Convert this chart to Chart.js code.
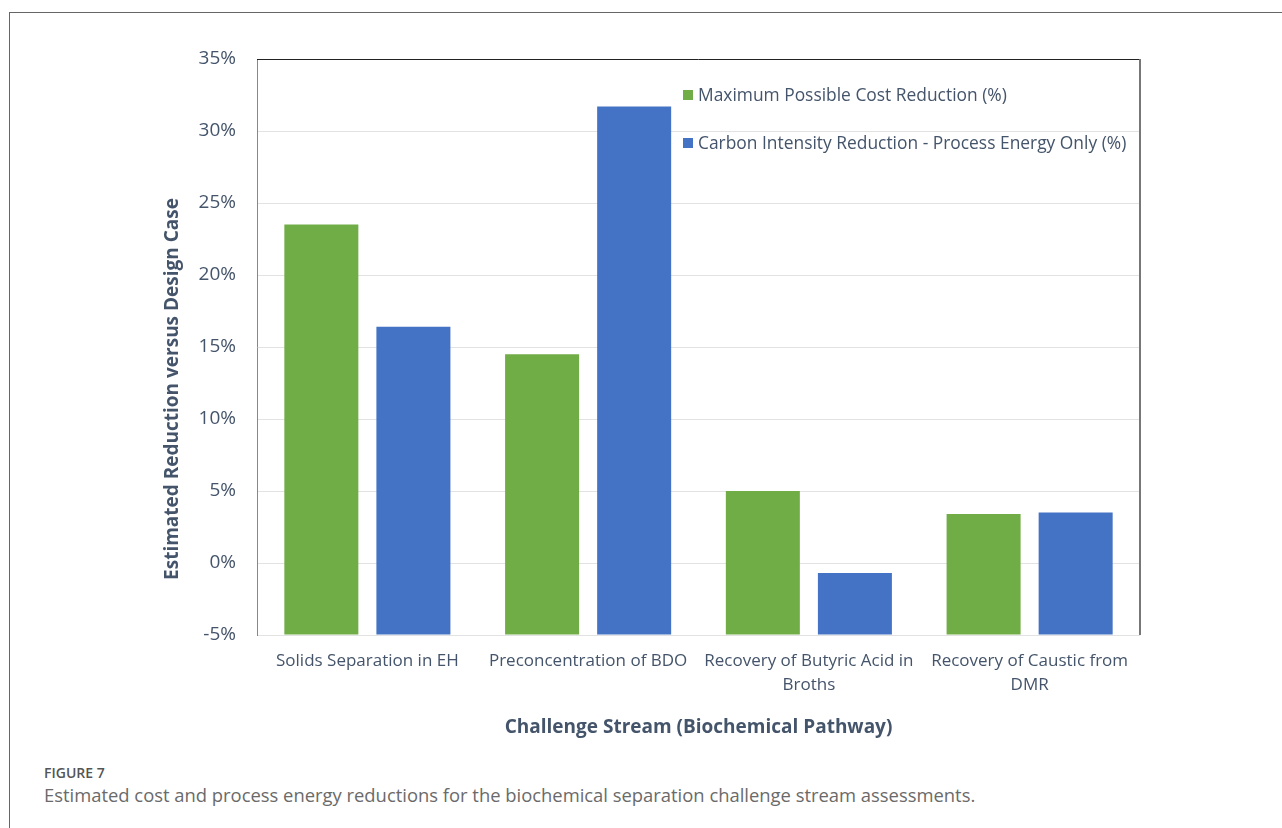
<!DOCTYPE html>
<html>
<head>
<meta charset="utf-8">
<script src="https://cdn.jsdelivr.net/npm/chart.js@4"></script>
<style>
    html, body { margin: 0; padding: 0; background: #fff; }
    body { width: 1282px; height: 828px; position: relative; overflow: hidden; font-family: 'Open Sans', sans-serif; }
    #frame { position: absolute; left: 9px; top: 12px; width: 1400px; height: 900px; border-left: 1.5px solid #666; border-top: 1.5px solid #666; box-sizing: border-box; }
    #wrap { position: absolute; left: 0; top: 0; width: 1282px; height: 760px; }
    #figLabel { position: absolute; left: 44px; top: 763px; font-size: 14px; font-weight: 600; color: #555; }
    #caption { position: absolute; left: 44px; top: 782px; font-size: 18.4px; color: #6a6a6a; white-space: nowrap; }
</style>
</head>
<body>
<div id="frame"></div>
<div id="wrap"><canvas id="chart" width="1282" height="760"></canvas></div>
<div id="figLabel">FIGURE 7</div>
<div id="caption">Estimated cost and process energy reductions for the biochemical separation challenge stream assessments.</div>
<script>
// Data (percent)
const categories = [
    'Solids Separation in EH',
    'Preconcentration of BDO',
    ['Recovery of Butyric Acid in', 'Broths'],
    ['Recovery of Caustic from', 'DMR']
];
const costReduction = [23.5, 14.5, 5.0, 3.4];
const carbonReduction = [16.4, 31.7, -0.7, 3.5];
const seriesNames = ['Maximum Possible Cost Reduction (%)', 'Carbon Intensity Reduction - Process Energy Only (%)'];
const yTitle = 'Estimated Reduction versus Design Case';
const xTitle = 'Challenge Stream (Biochemical Pathway)';
const yMin = -5, yMax = 35, yStep = 5;

const textColor = '#44546A';

// legend drawn inside plot area, top right
const innerLegend = {
    id: 'innerLegend',
    afterDatasetsDraw(chart) {
        const ctx = chart.ctx;
        ctx.save();
        ctx.font = '17.4px "Open Sans"';
        ctx.textBaseline = 'middle';
        chart.data.datasets.forEach((ds, i) => {
            const y = 95 + i * 48;
            ctx.fillStyle = ds.backgroundColor;
            ctx.fillRect(683, y - 5, 10, 10);
            ctx.fillStyle = textColor;
            ctx.fillText(ds.label, 698, y + 1);
        });
        ctx.restore();
    }
};

// top and right border of the plot area, plus the rotated y title
const plotBorder = {
    id: 'plotBorder',
    afterDraw(chart) {
        const { left, right, top, bottom } = chart.chartArea;
        const ctx = chart.ctx;
        ctx.save();
        ctx.strokeStyle = '#222';
        ctx.lineWidth = 1;
        ctx.beginPath();
        ctx.moveTo(left, top + 0.5);
        ctx.lineTo(right, top + 0.5);
        ctx.stroke();
        ctx.strokeStyle = '#777';
        ctx.lineWidth = 2;
        ctx.beginPath();
        ctx.moveTo(right, top);
        ctx.lineTo(right, bottom);
        ctx.stroke();

        ctx.translate(173, 389);
        ctx.rotate(-Math.PI / 2);
        ctx.font = 'bold 19px "Open Sans"';
        ctx.fillStyle = textColor;
        ctx.textAlign = 'center';
        ctx.textBaseline = 'middle';
        ctx.fillText(yTitle, 0, 0);
        ctx.restore();
    }
};

new Chart(document.getElementById('chart'), {
    type: 'bar',
    data: {
        labels: categories,
        datasets: [{
            label: seriesNames[0],
            data: costReduction,
            backgroundColor: '#70AD47',
            base: yMin,
            barPercentage: 0.804,
            categoryPercentage: 0.834
        }, {
            label: seriesNames[1],
            data: carbonReduction,
            backgroundColor: '#4472C4',
            base: yMin,
            barPercentage: 0.804,
            categoryPercentage: 0.834
        }]
    },
    options: {
        responsive: false,
        animation: false,
        layout: { padding: { left: 157, right: 142, top: 59, bottom: 0 } },
        plugins: {
            legend: { display: false },
            tooltip: { enabled: false }
        },
        scales: {
            x: {
                grid: { display: false, drawTicks: false },
                border: { display: false },
                ticks: {
                    color: textColor,
                    font: { family: 'Open Sans', size: 17, lineHeight: '24px' },
                    padding: 14,
                    maxRotation: 0,
                    autoSkip: false
                },
                title: {
                    display: true,
                    text: xTitle,
                    color: textColor,
                    font: { family: 'Open Sans', size: 19, weight: 'bold' },
                    padding: { top: 4, bottom: 21 }
                },
                afterFit(scale) { scale.height = 125; }
            },
            y: {
                min: yMin,
                max: yMax,
                grid: { color: '#e2e2e2', drawTicks: false },
                border: { display: true, color: '#888', width: 1 },
                ticks: {
                    stepSize: yStep,
                    color: textColor,
                    font: { family: 'Open Sans', size: 19 },
                    padding: 21,
                    callback: v => v + '%'
                },
                afterFit(scale) { scale.width = 100; }
            }
        }
    },
    plugins: [innerLegend, plotBorder]
});
</script>
</body>
</html>
